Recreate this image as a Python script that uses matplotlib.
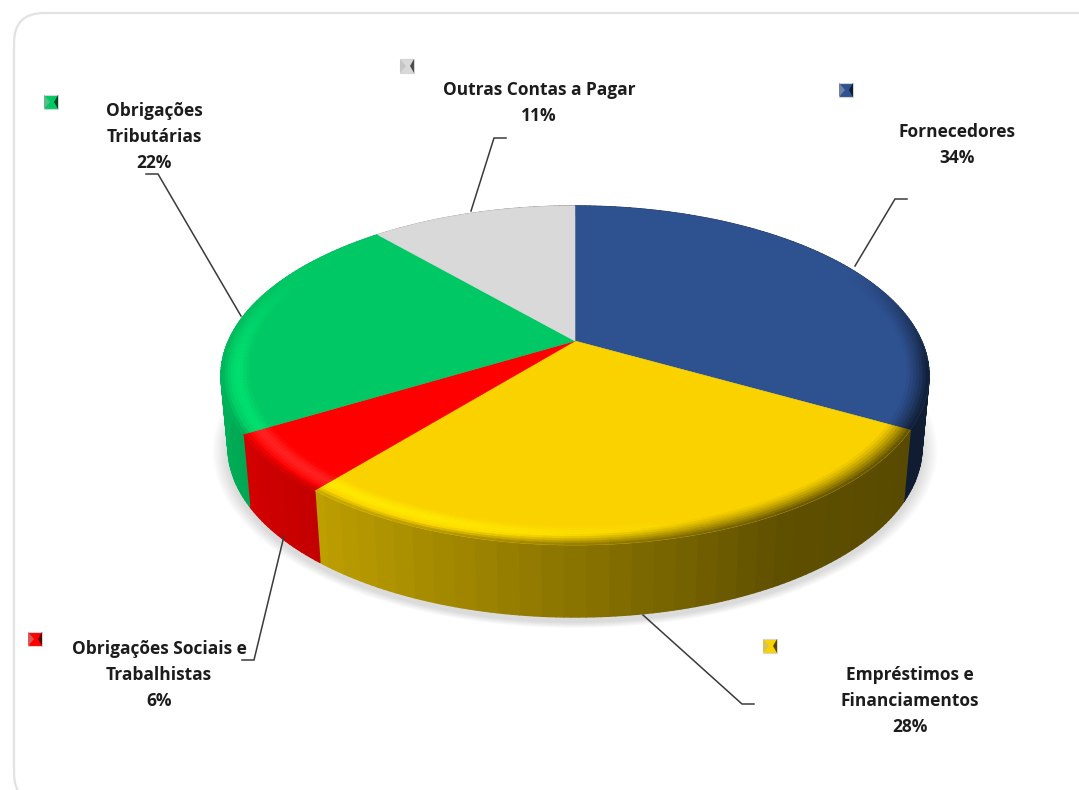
"""Composicao do passivo - 3D pie drawn by hand, matplotlib has no perspective pie."""
import numpy as np
import matplotlib
matplotlib.use("Agg")
import matplotlib.pyplot as plt
from matplotlib.collections import PolyCollection
from matplotlib.colors import to_rgb
from matplotlib.patches import FancyBboxPatch, Polygon

# clockwise from 12 o'clock
categories = ["Fornecedores", "Empréstimos e\nFinanciamentos", "Obrigações Sociais e\nTrabalhistas",
              "Obrigações\nTributárias", "Outras Contas a Pagar"]
pct_labels = ["34%", "28%", "6%", "22%", "11%"]
# slice sizes as measured on the picture, the printed labels are rounded
shares = [33.2, 27.7, 5.5, 22.2, 11.4]
top_colors = ["#2E5190", "#FAD200", "#FF0000", "#00C864", "#D9D9D9"]
glow_colors = ["#2E5190", "#FFE900", "#FF2222", "#00E070", "#D9D9D9"]

# layout, in reference pixels
label_xy = [(957, 145), (910, 701), (159, 675), (154, 137), (539, 103)]
key_xy = [(846, 90), (770, 646), (35, 639), (51, 102), (407, 66)]
leaders = [[(855, 266), (895, 199), (907, 199)],
           [(643, 615), (742, 704), (754, 704)],
           [(284, 536), (254, 660), (242, 660)],
           [(241, 316), (158, 174), (146, 174)],
           [(471, 211), (494, 138), (506, 138)]]

# perspective of the unit disc, apex at (cx, cy)
cx, cy = 575, 341
persp = 0.2035
sx, sy = 346.6, 162.5
depth = 72
bottom_scale = 0.98
rim = 0.085


def project(theta, r=1.0):
    u = r * np.sin(theta)
    v = r * np.cos(theta)
    w = 1 + persp * v
    return cx + sx * u / w, cy - sy * v / w


def project_bottom(theta):
    x, y = project(theta)
    return cx + (x - cx) * bottom_scale, y + depth


def mix(a, b, t):
    return tuple((1 - t) * p + t * q for p, q in zip(a, b))


def wall_color(base, theta):
    # banded like the original gradient stops
    u = np.sin(np.round(theta / np.radians(3)) * np.radians(3))
    f = np.interp(u, [-1, -0.7, 0, 0.5, 1], [0.88, 0.78, 0.55, 0.38, 0.34])
    return tuple(c * f for c in base)


def rim_color(base, glow, theta, t):
    u, v = np.sin(theta), np.cos(theta)
    front = np.clip((0.45 - v) / 0.6, 0, 1)
    light = np.clip((0.35 - u) / 0.7, 0, 1)
    c = mix(base, glow, light * front * np.sin(np.pi * min(t * 1.1, 1)) ** 2)
    t0 = 0.25 + 0.5 * light
    return mix(c, wall_color(base, theta), front * np.clip((t - t0) / (1 - t0), 0, 1) ** 1.3)


fig = plt.figure(figsize=(10.79, 7.90), dpi=100)
ax = fig.add_axes([0, 0, 1, 1])
ax.set_xlim(0, 1079)
ax.set_ylim(790, 0)
ax.axis("off")

ax.add_patch(FancyBboxPatch((44, 43), 1150, 730, boxstyle="round,pad=30,rounding_size=30",
                            fc="white", ec="#E2E2E2", lw=1.6, zorder=0))

edges = np.concatenate([[0], np.cumsum(shares)]) / np.sum(shares) * 2 * np.pi

# soft shadow under the pie
ring = np.linspace(0, 2 * np.pi, 240)
bx, by = project_bottom(ring)
for i in range(12, 0, -1):
    grow = 1 + i * 1.3 / 350
    ax.add_patch(Polygon(np.column_stack([cx + (bx - cx) * grow, 482 + (by - 482) * grow + 5]),
                         fc="#808080", ec="none", alpha=0.025, zorder=1))

# side wall, then the top on it
step = np.radians(1)
for i, base_hex in enumerate(top_colors):
    base = to_rgb(base_hex)
    th = np.append(np.arange(edges[i], edges[i + 1], step), edges[i + 1])

    quads, cols = [], []
    for a, b in zip(th[:-1], th[1:]):
        quads.append([project(a), project(b), project_bottom(b), project_bottom(a)])
        cols.append(wall_color(base, (a + b) / 2))
    ax.add_collection(PolyCollection(quads, facecolors=cols, edgecolors="face", linewidths=1.0, zorder=2))

for i, base_hex in enumerate(top_colors):
    base = to_rgb(base_hex)
    glow = to_rgb(glow_colors[i])
    th = np.append(np.arange(edges[i], edges[i + 1], step), edges[i + 1])
    x, y = project(th)
    ax.add_patch(Polygon(np.column_stack([np.r_[cx, x], np.r_[cy, y]]), fc=base, ec=base, lw=0.4, zorder=3))

    quads, cols = [], []
    radial = np.linspace(1 - rim, 1, 11)
    for a, b in zip(th[:-1], th[1:]):
        for r0, r1 in zip(radial[:-1], radial[1:]):
            quads.append([project(a, r0), project(b, r0), project(b, r1), project(a, r1)])
            cols.append(rim_color(base, glow, (a + b) / 2, (r0 + r1 - 2 * (1 - rim)) / (2 * rim)))
    ax.add_collection(PolyCollection(quads, facecolors=cols, edgecolors="face", linewidths=0.3, zorder=4))

# leader lines
for pts in leaders:
    ax.plot(*zip(*pts), color="#3A3A3A", lw=1.1, solid_joinstyle="miter", zorder=5)

# labels
for name, pct, (lx, ly) in zip(categories, pct_labels, label_xy):
    ax.text(lx, ly, f"{name}\n{pct}", ha="center", va="center", family="Open Sans", weight="bold",
            fontsize=12.5, color="#1C1C1C", linespacing=1.6, zorder=6)

# legend keys: small bevelled squares
half = 7
for (kx, ky), base_hex in zip(key_xy, top_colors):
    base = to_rgb(base_hex)
    tl, tr = (kx - half, ky - half), (kx + half, ky - half)
    bl, br = (kx - half, ky + half), (kx + half, ky + half)
    mid_l, mid_r = (kx - 1, ky), (kx + 3, ky)
    ax.add_patch(Polygon([tl, tr, br, bl], fc=base, ec="#D5D5D5", lw=0.8, zorder=6))
    ax.add_patch(Polygon([tl, bl, mid_l], fc=mix(base, (0.7, 0.7, 0.7), 0.5), ec="none", zorder=7))
    ax.add_patch(Polygon([tr, br, mid_r], fc=tuple(c * 0.35 for c in base), ec="none", zorder=7))

fig.savefig("out.png", dpi=100)
